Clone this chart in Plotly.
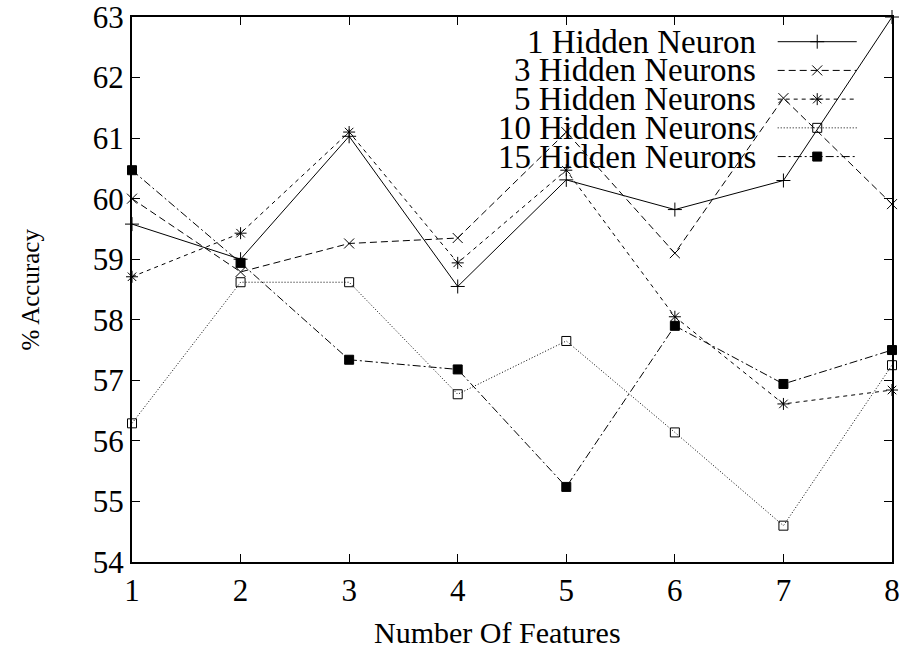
import plotly.graph_objects as go

# Accuracy (%) versus number of input features for several hidden-layer sizes
features = [1, 2, 3, 4, 5, 6, 7, 8]
acc_1 = [59.58, 59.0, 61.03, 58.55, 60.31, 59.82, 60.30, 63.0]
acc_3 = [60.0, 58.79, 59.26, 59.35, 61.1, 59.1, 61.66, 59.91]
acc_5 = [58.71, 59.43, 61.1, 58.94, 60.47, 58.05, 56.61, 56.84]
acc_10 = [56.29, 58.62, 58.62, 56.77, 57.65, 56.14, 54.6, 57.25]
acc_15 = [60.47, 58.94, 57.34, 57.18, 55.24, 57.9, 56.94, 57.5]

series_names = ["1 Hidden Neuron", "3 Hidden Neurons", "5 Hidden Neurons",
                "10 Hidden Neurons", "15 Hidden Neurons"]
x_ticks = [1, 2, 3, 4, 5, 6, 7, 8]
y_ticks = [54, 55, 56, 57, 58, 59, 60, 61, 62, 63]

styles = [
    dict(dash="solid", symbol="cross-thin-open", size=10),
    dict(dash="7px,4px", symbol="x-thin-open", size=10),
    dict(dash="4px,4px", symbol="asterisk-open", size=10),
    dict(dash="1px,2px", symbol="square-open", size=9),
    dict(dash="8px,3px,2px,3px", symbol="square", size=9),
]

FONT = "Liberation Serif, DejaVu Serif, serif"
fig = go.Figure()

for vals, st in zip([acc_1, acc_3, acc_5, acc_10, acc_15], styles):
    fig.add_trace(go.Scatter(
        x=features, y=vals, mode="lines+markers", cliponaxis=False,
        line=dict(color="black", width=1, dash=st["dash"]),
        marker=dict(symbol=st["symbol"], size=st["size"], color="black",
                    line=dict(color="black", width=1)),
        showlegend=False,
    ))

# key: right-aligned labels with line samples drawn on an overlay axis (0..1)
row_y = [0.9547 - 0.0527 * i for i in range(5)]
for name, st, ry in zip(series_names, styles, row_y):
    fig.add_trace(go.Scatter(
        x=[0.8496, 0.9536], y=[ry, ry], mode="lines", xaxis="x2", yaxis="y2",
        line=dict(color="black", width=1, dash=st["dash"]), showlegend=False,
        hoverinfo="skip",
    ))
    fig.add_trace(go.Scatter(
        x=[0.9016], y=[ry], mode="markers", xaxis="x2", yaxis="y2",
        marker=dict(symbol=st["symbol"], size=st["size"], color="black",
                    line=dict(color="black", width=1)),
        showlegend=False, hoverinfo="skip",
    ))
    fig.add_annotation(x=0.8237, y=ry, xref="x2", yref="y2", text=name,
                       showarrow=False, xanchor="right", yanchor="middle",
                       font=dict(family=FONT, size=33, color="black"))

axis_common = dict(showgrid=False, zeroline=False, showline=True,
                   linecolor="black", linewidth=2, mirror="allticks",
                   ticks="inside", ticklen=8, tickwidth=1, tickcolor="black",
                   automargin=False, ticklabeloverflow="allow",
                   tickfont=dict(family=FONT, size=31, color="black"))

fig.update_layout(
    width=906, height=651,
    margin=dict(l=132, r=14, t=17, b=89),
    paper_bgcolor="white", plot_bgcolor="white",
    xaxis=dict(range=[1, 8], tickvals=x_ticks, **axis_common),
    yaxis=dict(range=[54, 63], tickvals=y_ticks, **axis_common),
    xaxis2=dict(range=[0, 1], overlaying="x", visible=False, domain=[0, 1]),
    yaxis2=dict(range=[0, 1], overlaying="y", visible=False),
    showlegend=False,
)

fig.add_annotation(x=0.5, y=0, xref="paper", yref="paper", yshift=-70,
                   xshift=-15, text="Number Of Features", showarrow=False,
                   xanchor="center", yanchor="middle",
                   font=dict(family=FONT, size=30, color="black"))
fig.add_annotation(x=0, y=0.5, xref="paper", yref="paper", xshift=-102,
                   text="% Accuracy", showarrow=False, textangle=-90,
                   xanchor="center", yanchor="middle",
                   font=dict(family=FONT, size=25, color="black"))

fig.write_html("out.html")
